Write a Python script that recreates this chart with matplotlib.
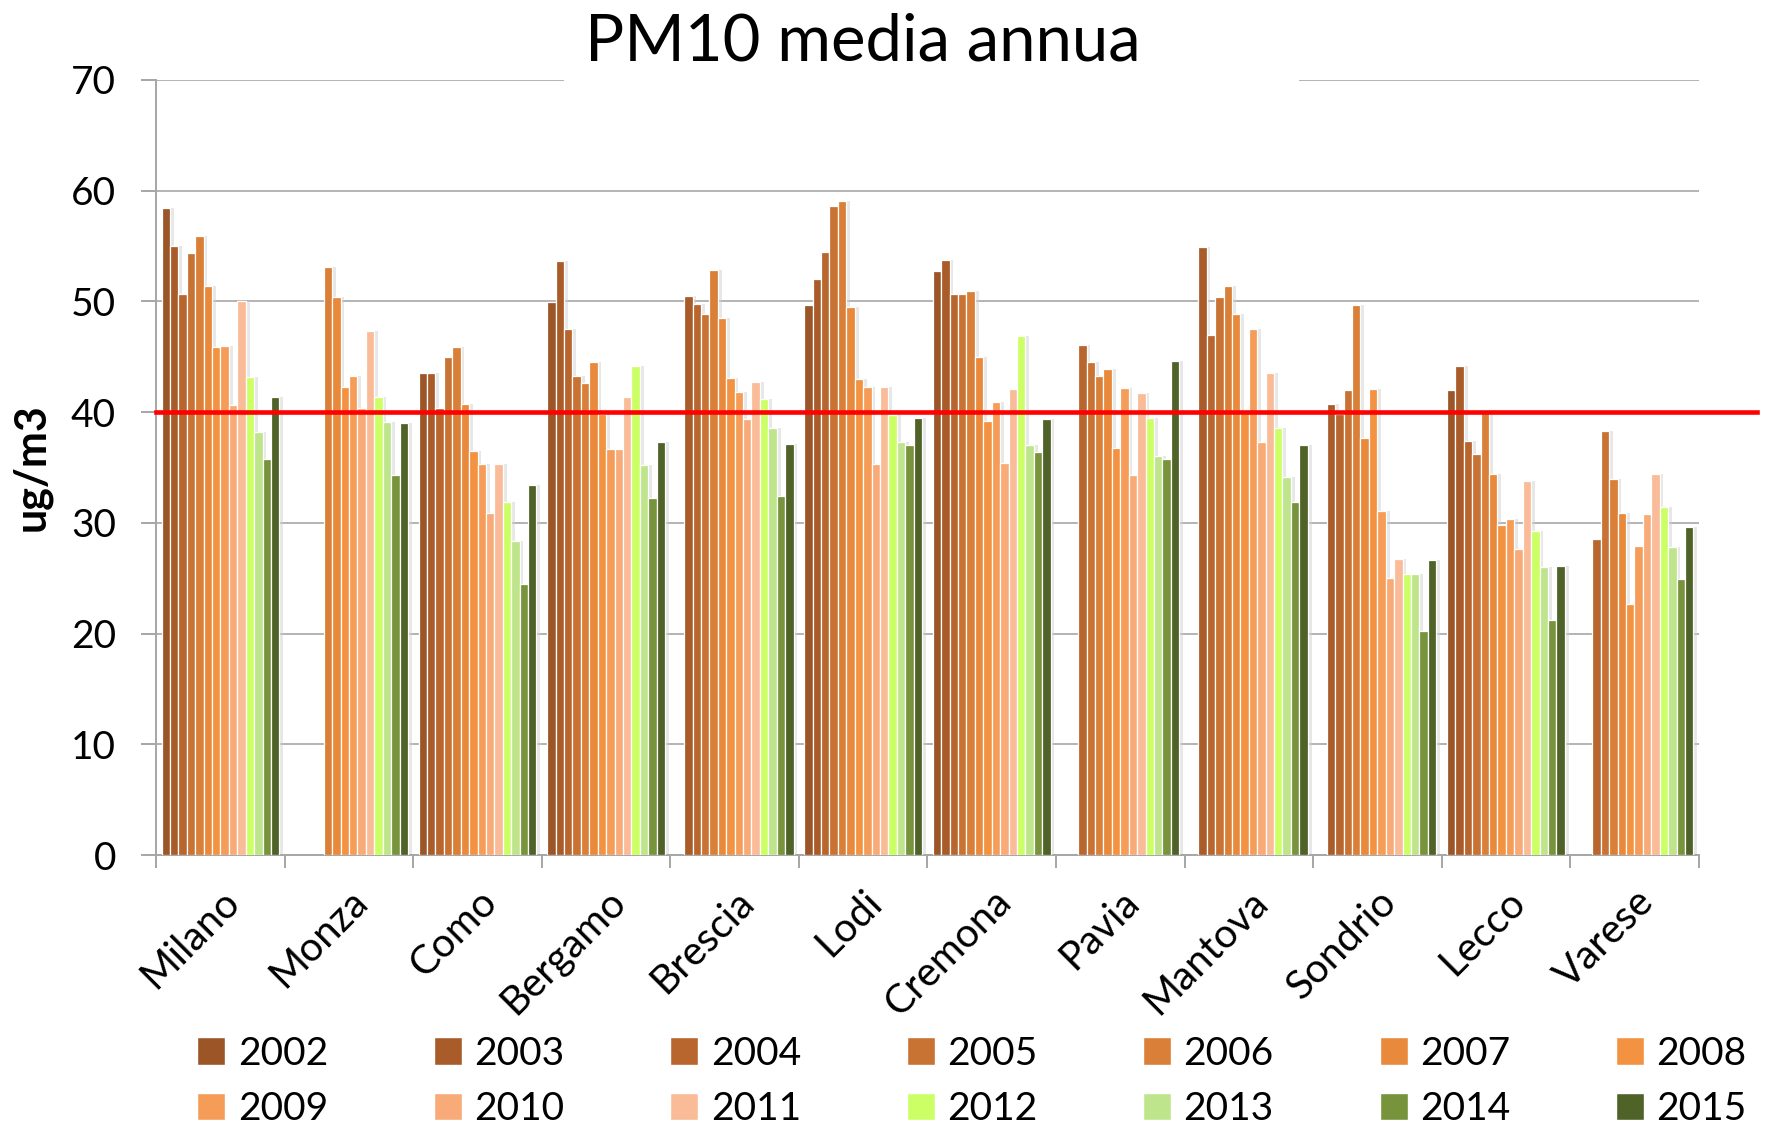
import numpy as np
import matplotlib
matplotlib.use("Agg")
import matplotlib.pyplot as plt
from matplotlib.patches import Patch, Rectangle

plt.rcParams['font.family'] = ['Lato', 'DejaVu Sans']

nan = np.nan

cities = ['Milano', 'Monza', 'Como', 'Bergamo', 'Brescia', 'Lodi',
          'Cremona', 'Pavia', 'Mantova', 'Sondrio', 'Lecco', 'Varese']
years = list(range(2002, 2016))

# valori per anno (2002 -> 2015), una riga per citta'
milano  = [58.4, 55.0, 50.7, 54.4, 55.9, 51.4, 45.9, 46.0, 40.6, 50.0, 43.2, 38.2, 35.8, 41.4]
monza   = [nan, nan, nan, nan, 53.1, 50.4, 42.3, 43.3, 40.4, 47.3, 41.4, 39.1, 34.3, 39.0]
como    = [43.5, 43.5, 40.4, 45.0, 45.9, 40.7, 36.5, 35.3, 30.9, 35.3, 31.9, 28.4, 24.5, 33.4]
bergamo = [49.9, 53.6, 47.5, 43.3, 42.6, 44.5, 39.8, 36.7, 36.7, 41.4, 44.2, 35.2, 32.2, 37.3]
brescia = [nan, 50.5, 49.8, 48.9, 52.8, 48.5, 43.1, 41.8, 39.4, 42.7, 41.2, 38.6, 32.4, 37.1]
lodi    = [49.7, 52.0, 54.5, 58.6, 59.1, 49.5, 43.0, 42.3, 35.3, 42.3, 39.7, 37.3, 37.0, 39.5]
cremona = [52.7, 53.7, 50.7, 50.7, 50.9, 45.0, 39.2, 40.9, 35.4, 42.1, 46.9, 37.0, 36.4, 39.4]
pavia   = [nan, nan, 46.1, 44.5, 43.3, 43.9, 36.8, 42.2, 34.3, 41.7, 39.5, 36.0, 35.8, 44.6]
mantova = [nan, 54.9, 47.0, 50.4, 51.4, 48.9, 39.9, 47.5, 37.3, 43.5, 38.6, 34.1, 31.9, 37.0]
sondrio = [nan, 40.7, 39.8, 42.0, 49.7, 37.7, 42.1, 31.1, 25.0, 26.7, 25.4, 25.4, 20.2, 26.6]
lecco   = [42.0, 44.2, 37.4, 36.2, 40.1, 34.4, 29.8, 30.3, 27.6, 33.8, 29.3, 26.0, 21.2, 26.1]
varese  = [nan, nan, 28.5, 38.3, 34.0, 30.9, 22.7, 27.9, 30.8, 34.4, 31.4, 27.8, 24.9, 29.6]

limite = 40

colori = ['#9B5527', '#A95C2A', '#B9652E', '#C87233', '#D97F37', '#E8893C', '#F39241',
          '#F59D58', '#F8AB78', '#FABB98', '#CCFF66', '#BFE58C', '#77933C', '#4F6228']

dati = np.array([milano, monza, como, bergamo, brescia, lodi,
                 cremona, pavia, mantova, sondrio, lecco, varese])

fig = plt.figure(figsize=(17.75, 11.25), dpi=100)
ax = fig.add_axes([0.088, 0.24, 0.869, 0.689])

x = np.arange(len(cities))
w = 0.0655
for i, anno in enumerate(years):
    pos = x + (i - 6.5) * w
    # ombra leggera
    ax.bar(pos + w * 0.45, dati[:, i], width=w, color='#d0d0d0', alpha=0.5,
           linewidth=0, zorder=2)
    ax.bar(pos, dati[:, i], width=w, color=colori[i], edgecolor='white',
           linewidth=0.9, zorder=3, label=str(anno))

ax.plot([0, 1.038], [limite, limite], color='#FF0000', lw=3.3,
        transform=ax.get_yaxis_transform(), clip_on=False, zorder=5)

ax.set_xlim(-0.5, len(cities) - 0.5)
ax.set_ylim(0, 70)
ax.set_yticks(range(0, 71, 10))
ax.yaxis.grid(True, color='#b3b3b3', lw=1.4, zorder=0)
ax.set_axisbelow(True)

ax.set_xticks(np.arange(-0.5, len(cities)), minor=False)
ax.set_xticklabels([])
ax.set_xticks(x, minor=True)
ax.set_xticklabels(cities, minor=True, rotation=45, ha='right',
                   rotation_mode='anchor', fontsize=29)
ax.tick_params(axis='x', which='minor', length=0, pad=20)
ax.tick_params(axis='x', which='major', length=9, width=1.4, color='#a6a6a6')
ax.tick_params(axis='y', length=11, width=1.4, color='#a6a6a6', labelsize=28, pad=18)

for s in ['top', 'right']:
    ax.spines[s].set_visible(False)
for s in ['left', 'bottom']:
    ax.spines[s].set_color('#a6a6a6')
    ax.spines[s].set_linewidth(1.4)

ax.set_ylabel('ug/m3', fontsize=31, fontweight='bold', labelpad=14)

# fascia bianca dietro al titolo (interrompe la griglia in alto)
fig.patches.append(Rectangle((0.3176, 0.905), 0.4145, 0.1, transform=fig.transFigure,
                             facecolor='white', edgecolor='none', zorder=2))
fig.text(0.486, 0.963, 'PM10 media annua', fontsize=47, ha='center', va='center',
         zorder=3)

# legenda per righe: 2002-2008 sopra, 2009-2015 sotto
handles = [Patch(facecolor=c, edgecolor='white') for c in colori]
labels = [str(a) for a in years]
order = []
for k in range(7):
    order += [k, k + 7]
fig.legend([handles[k] for k in order], [labels[k] for k in order],
           loc='lower left', bbox_to_anchor=(0.0915, -0.033), ncol=7, frameon=False,
           fontsize=28, handlelength=0.72, handleheight=0.72, handletextpad=0.32,
           columnspacing=2.72, labelspacing=0.5)

fig.savefig('out.png', dpi=100)
